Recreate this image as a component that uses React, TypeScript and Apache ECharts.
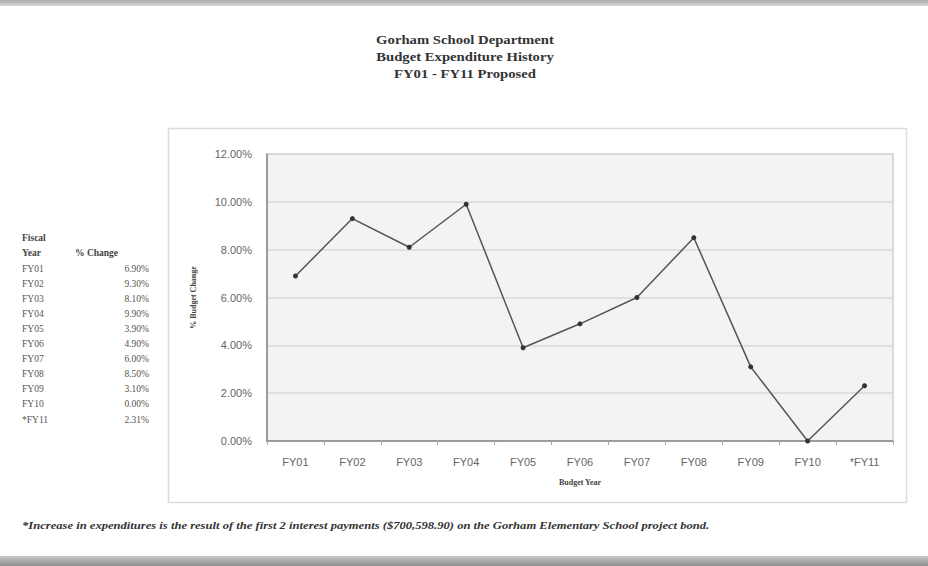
import React, { useEffect, useRef } from "react";
import * as echarts from "echarts";

const categories = ["FY01", "FY02", "FY03", "FY04", "FY05", "FY06", "FY07", "FY08", "FY09", "FY10", "*FY11"];
const pctChange = [6.9, 9.3, 8.1, 9.9, 3.9, 4.9, 6.0, 8.5, 3.1, 0.0, 2.31];
const titleLines = ["Gorham School Department", "Budget Expenditure History", "FY01 - FY11 Proposed"];
const footnote =
  "*Increase in expenditures is the result of the first 2 interest payments ($700,598.90) on the Gorham Elementary School project bond.";

const SERIF = "'Liberation Serif', 'DejaVu Serif', serif";
const SANS = "'Liberation Sans', Arial, sans-serif";

export default function App() {
  const ref = useRef<HTMLDivElement>(null);

  useEffect(() => {
    if (!ref.current) return;
    const chart = echarts.init(ref.current, null, { renderer: "svg" });

    const graphics: any[] = [];
    // top and bottom gray bands
    graphics.push({
      type: "rect",
      shape: { x: 0, y: 0, width: 928, height: 6 },
      style: {
        fill: new echarts.graphic.LinearGradient(0, 0, 0, 1, [
          { offset: 0, color: "#a8a8a8" },
          { offset: 1, color: "#d8d8d8" },
        ]),
      },
      silent: true,
    });
    graphics.push({
      type: "rect",
      shape: { x: 0, y: 556, width: 928, height: 10 },
      style: {
        fill: new echarts.graphic.LinearGradient(0, 0, 0, 1, [
          { offset: 0, color: "#c8c8c8" },
          { offset: 1, color: "#8e8e8e" },
        ]),
      },
      silent: true,
    });
    // outer chart box
    graphics.push({
      type: "rect",
      z: -10,
      shape: { x: 168.5, y: 128.5, width: 738, height: 374 },
      style: { fill: "#ffffff", stroke: "#dcdcdc", lineWidth: 1.5 },
      silent: true,
    });
    // title
    titleLines.forEach((t, i) => {
      graphics.push({
        type: "text",
        x: 465,
        y: 40 + i * 17,
        scaleX: 1.13,
        style: {
          text: t,
          font: `bold 13px ${SERIF}`,
          fill: "#333",
          align: "center",
          verticalAlign: "middle",
        },
      });
    });
    // left table
    const tf = `9.5px ${SERIF}`;
    const tfb = `bold 9.5px ${SERIF}`;
    graphics.push({ type: "text", x: 22, y: 238, style: { text: "Fiscal", font: tfb, fill: "#444", verticalAlign: "middle" } });
    graphics.push({ type: "text", x: 22, y: 253, style: { text: "Year", font: tfb, fill: "#444", verticalAlign: "middle" } });
    graphics.push({ type: "text", x: 75, y: 253, style: { text: "% Change", font: tfb, fill: "#444", verticalAlign: "middle" } });
    categories.forEach((c, i) => {
      const y = 268.5 + i * 15.1;
      graphics.push({ type: "text", x: 22, y, style: { text: c, font: tf, fill: "#555", verticalAlign: "middle" } });
      graphics.push({
        type: "text",
        x: 149,
        y,
        style: { text: pctChange[i].toFixed(2) + "%", font: tf, fill: "#555", align: "right", verticalAlign: "middle" },
      });
    });
    // footnote
    graphics.push({
      type: "text",
      x: 22,
      y: 525,
      scaleX: 1.26,
      style: {
        text: footnote,
        font: `italic bold 10px ${SERIF}`,
        fill: "#333",
        verticalAlign: "middle",
      },
    });

    chart.setOption({
      animation: false,
      backgroundColor: "#ffffff",
      graphic: { elements: graphics },
      grid: {
        left: 267,
        top: 154,
        width: 626,
        height: 287,
        show: true,
        backgroundColor: "#f3f3f3",
        borderColor: "#cfcfcf",
        borderWidth: 1.5,
      },
      xAxis: {
        type: "category",
        data: categories,
        boundaryGap: true,
        name: "Budget Year",
        nameLocation: "middle",
        nameGap: 37,
        nameTextStyle: { fontFamily: SERIF, fontWeight: "bold", fontSize: 8, color: "#444" },
        axisLine: { show: true, lineStyle: { color: "#888", width: 1.5 } },
        axisTick: { show: true, alignWithLabel: false, length: 4, lineStyle: { color: "#aaa" } },
        axisLabel: { fontFamily: SANS, fontSize: 11, color: "#666", margin: 15 },
        splitLine: { show: false },
      },
      yAxis: {
        type: "value",
        min: 0,
        max: 12,
        interval: 2,
        name: "% Budget Change",
        nameLocation: "middle",
        nameGap: 70,
        nameRotate: 90,
        nameTextStyle: { fontFamily: SERIF, fontWeight: "bold", fontSize: 8, color: "#444" },
        axisLine: { show: true, lineStyle: { color: "#888", width: 1.5 } },
        axisTick: { show: false },
        axisLabel: {
          fontFamily: SANS,
          fontSize: 11,
          color: "#666",
          margin: 15,
          formatter: (v: number) => v.toFixed(2) + "%",
        },
        splitLine: { show: true, lineStyle: { color: "#d9d9d9", width: 1.5 } },
      },
      series: [
        {
          type: "line",
          data: pctChange,
          symbol: "circle",
          symbolSize: 5,
          itemStyle: { color: "#333" },
          lineStyle: { color: "#555", width: 1.5 },
          silent: true,
        },
      ],
    });

    return () => chart.dispose();
  }, []);

  return <div ref={ref} style={{ position: "absolute", left: 0, top: 0, width: 928, height: 566 }} />;
}
